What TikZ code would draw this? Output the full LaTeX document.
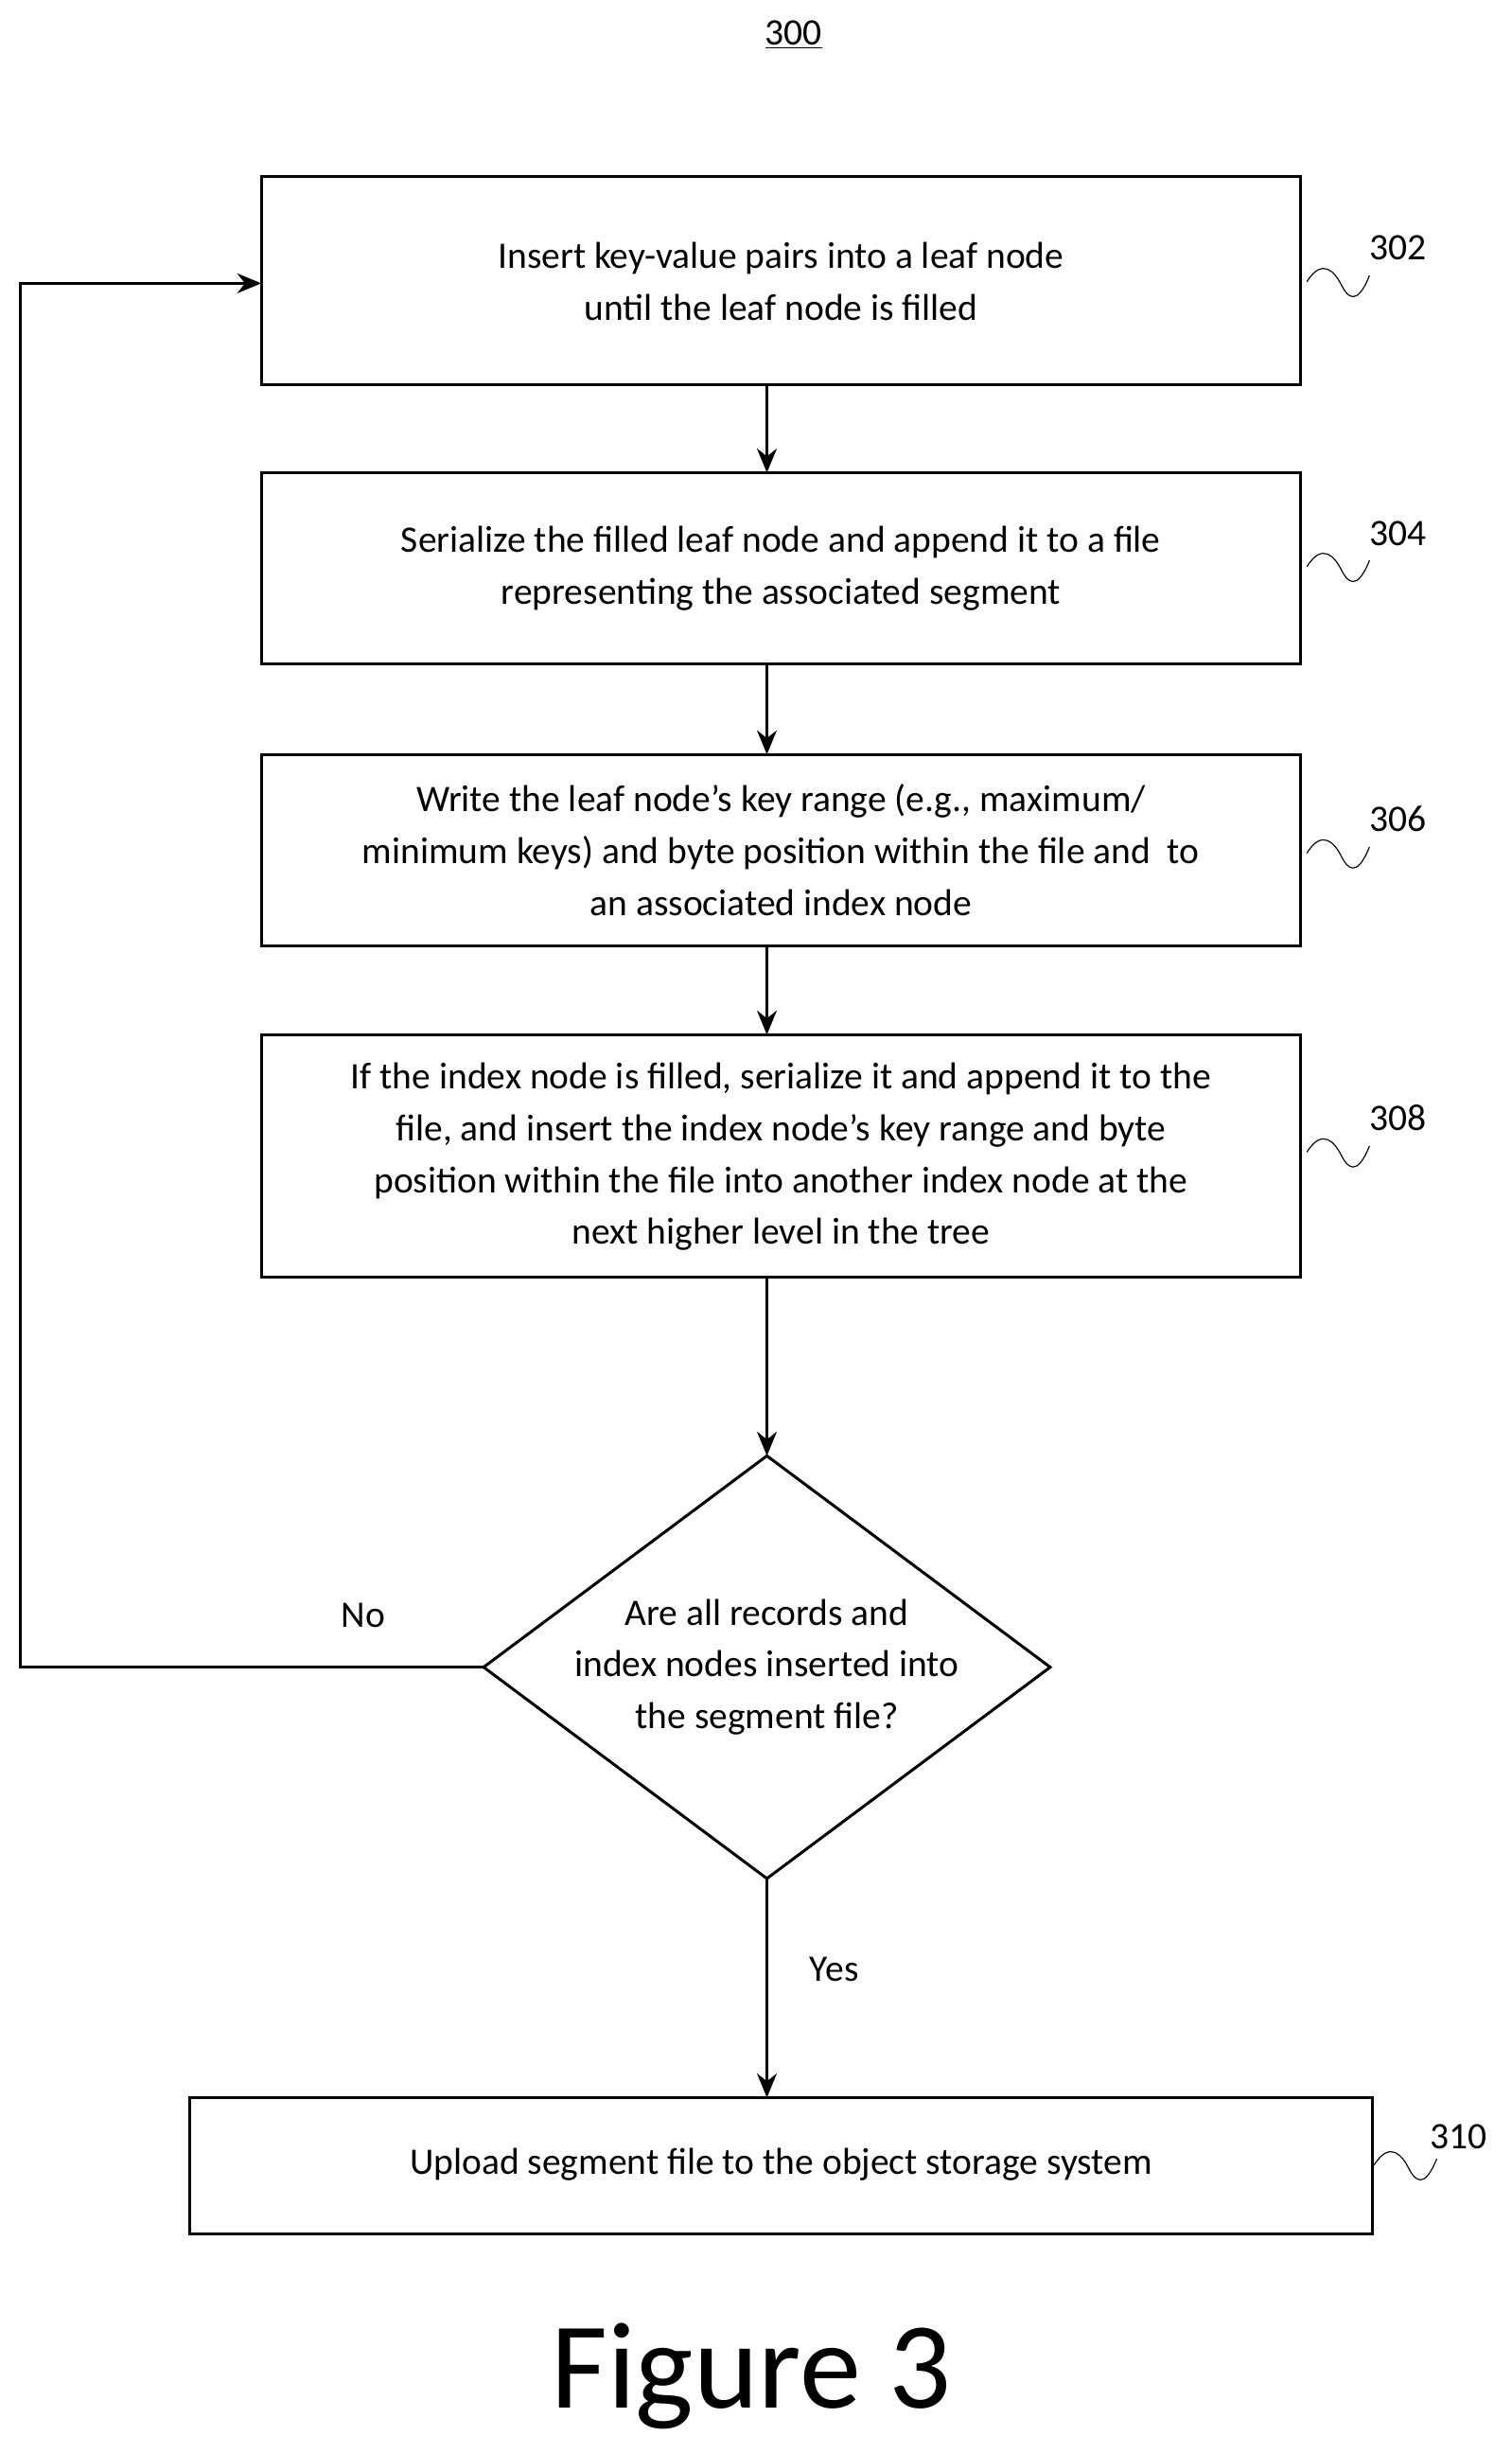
\documentclass[tikz,border=0pt]{standalone}
\usepackage{fontspec}
\setmainfont{Carlito}
\usetikzlibrary{arrows.meta,shapes.geometric}
\begin{document}
\begin{tikzpicture}[x=0.05cm,y=-0.05cm,
  box/.style={draw,line width=2.6pt,inner sep=0pt},
  txt/.style={align=center,font=\fontsize{34}{47}\selectfont},
  arr/.style={line width=2.6pt,-{Stealth[length=22pt,width=18pt]}},
  sq/.style={line width=1pt},
  lab/.style={font=\fontsize{34}{40}\selectfont}]
\useasboundingbox (0,0) rectangle (966,1567);
\node[lab] (t300) at (507,22) {\underline{300}};
\draw[box] (167,113) rectangle (831,246);
\node[txt] (b302) at (499,180) {Insert key-value pairs into a leaf node\\until the leaf node is filled};
\draw[box] (167,302) rectangle (831,424);
\node[txt] (b304) at (499,363) {Serialize the filled leaf node and append it to a file\\representing the associated segment};
\draw[box] (167,482) rectangle (831,604);
\node[txt] (b306) at (499,543) {Write the leaf node’s key range (e.g., maximum/\\minimum keys) and byte position within the file and\ \ to\\an associated index node};
\draw[box] (167,661) rectangle (831,816);
\node[txt] (b308) at (499,739) {If the index node is filled, serialize it and append it to the\\file, and insert the index node’s key range and byte\\position within the file into another index node at the\\next higher level in the tree};
\draw[box] (490,930) -- (671,1065) -- (490,1200) -- (309,1065) -- cycle;
\node[txt] (dia) at (490,1065) {Are all records and\\index nodes inserted into\\the segment file?};
\draw[box] (121,1340) rectangle (877,1427);
\node[txt] (b310) at (499,1383) {Upload segment file to the object storage system};
\coordinate (p1) at (490,246); \coordinate (p1b) at (490,302);
\coordinate (p2) at (490,424); \coordinate (p2b) at (490,482);
\coordinate (p3) at (490,604); \coordinate (p3b) at (490,661);
\coordinate (p4) at (490,816); \coordinate (p4b) at (490,930);
\coordinate (p5) at (490,1200); \coordinate (p5b) at (490,1340);
\coordinate (dl) at (309,1065); \coordinate (c1) at (13,1065); \coordinate (c2) at (13,181); \coordinate (bl) at (167,181);
\draw[arr] (p1) -- (p1b);
\draw[arr] (p2) -- (p2b);
\draw[arr] (p3) -- (p3b);
\draw[arr] (p4) -- (p4b);
\draw[arr] (p5) -- (p5b);
\draw[arr] (dl) -- (c1) -- (c2) -- (bl);
\node[txt] (no) at (232,1032) {No};
\node[txt] (yes) at (533,1258) {Yes};
\node[lab] (l302) at (893,158) {302};
\node[lab] (l304) at (893,341) {304};
\node[lab] (l306) at (893,523) {306};
\node[lab] (l308) at (893,714) {308};
\node[lab] (l310) at (932,1365) {310};
\foreach \x/\y in {835/180,835/362,835/545,835/736,878/1383}{
  \draw[sq] (\x,\y) .. controls (\x+10,\y-16) and (\x+18,\y-6) .. (\x+22,\y+2)
    .. controls (\x+26,\y+10) and (\x+32,\y+16) .. (\x+40,\y-4);}
\node[font=\fontsize{112}{120}\selectfont] (fig) at (480,1518) {Figure 3};
\end{tikzpicture}
\end{document}
